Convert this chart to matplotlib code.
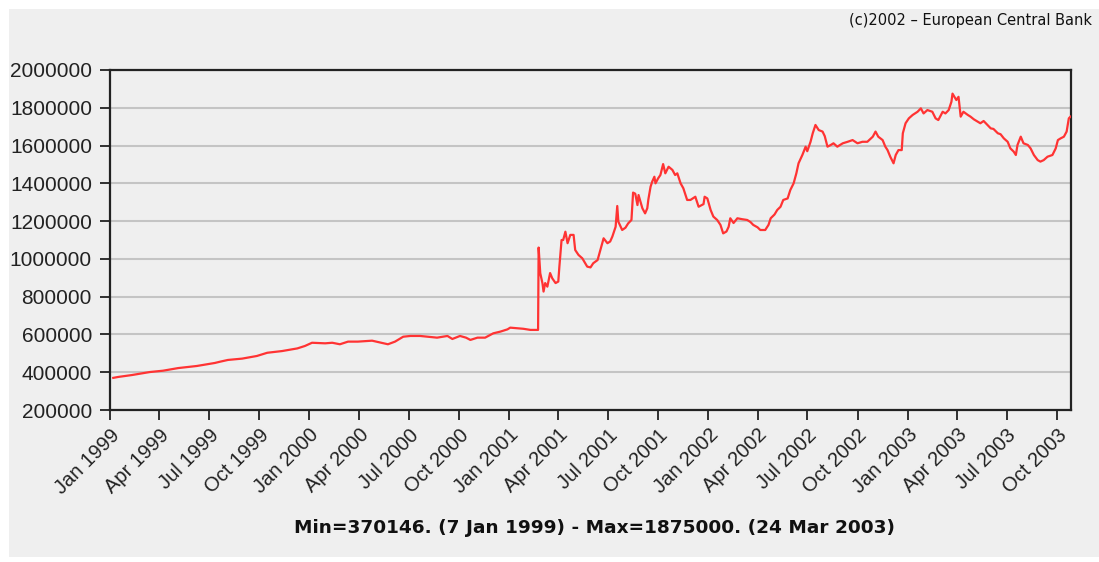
import matplotlib
matplotlib.use("Agg")
import matplotlib.pyplot as plt
import matplotlib.dates as mdates
from matplotlib.patches import Rectangle
from matplotlib.ticker import FuncFormatter
import pandas as pd

# values
dates = [
    "1999-01-07", "1999-01-16", "1999-02-10", "1999-03-15", "1999-04-08", "1999-05-06",
    "1999-06-09", "1999-07-12", "1999-07-22", "1999-08-05", "1999-08-31", "1999-09-27",
    "1999-10-16", "1999-11-12", "1999-12-10", "1999-12-24", "2000-01-06", "2000-01-30",
    "2000-02-12", "2000-02-26", "2000-03-12", "2000-03-30", "2000-04-25", "2000-05-24",
    "2000-06-06", "2000-06-21", "2000-07-04", "2000-07-22", "2000-08-22", "2000-09-10",
    "2000-09-19", "2000-10-03", "2000-10-14", "2000-10-22", "2000-11-04", "2000-11-18",
    "2000-12-03", "2000-12-16", "2000-12-29", "2001-01-03", "2001-01-27", "2001-02-09",
    "2001-02-23", "2001-02-24", "2001-02-27", "2001-03-03", "2001-03-05", "2001-03-08",
    "2001-03-12", "2001-03-17", "2001-03-21", "2001-03-27", "2001-04-01", "2001-04-03",
    "2001-04-07", "2001-04-10", "2001-04-14", "2001-04-18", "2001-04-23", "2001-04-29",
    "2001-05-02", "2001-05-08", "2001-05-15", "2001-05-24", "2001-05-30", "2001-06-04",
    "2001-06-12", "2001-06-17", "2001-06-23", "2001-06-30", "2001-07-05", "2001-07-09",
    "2001-07-15", "2001-07-18", "2001-07-20", "2001-07-27", "2001-08-02", "2001-08-07",
    "2001-08-13", "2001-08-16", "2001-08-20", "2001-08-24", "2001-08-26", "2001-09-02",
    "2001-09-07", "2001-09-11", "2001-09-13", "2001-09-17", "2001-09-20", "2001-09-24",
    "2001-09-26", "2001-10-01", "2001-10-05", "2001-10-10", "2001-10-14", "2001-10-20",
    "2001-10-27", "2001-11-01", "2001-11-05", "2001-11-11", "2001-11-16", "2001-11-23",
    "2001-11-29", "2001-12-08", "2001-12-14", "2001-12-23", "2001-12-25", "2001-12-30",
    "2002-01-05", "2002-01-10", "2002-01-17", "2002-01-23", "2002-01-28", "2002-02-03",
    "2002-02-07", "2002-02-10", "2002-02-16", "2002-02-23", "2002-03-04", "2002-03-13",
    "2002-03-19", "2002-03-24", "2002-04-01", "2002-04-06", "2002-04-15", "2002-04-21",
    "2002-04-25", "2002-05-02", "2002-05-07", "2002-05-13", "2002-05-18", "2002-05-26",
    "2002-05-31", "2002-06-06", "2002-06-11", "2002-06-15", "2002-06-22", "2002-06-28",
    "2002-07-01", "2002-07-07", "2002-07-11", "2002-07-16", "2002-07-22", "2002-07-29",
    "2002-08-02", "2002-08-07", "2002-08-13", "2002-08-18", "2002-08-25", "2002-09-04",
    "2002-09-13", "2002-09-22", "2002-10-01", "2002-10-10", "2002-10-19", "2002-10-29",
    "2002-11-03", "2002-11-08", "2002-11-16", "2002-11-21", "2002-11-25", "2002-11-30",
    "2002-12-06", "2002-12-10", "2002-12-15", "2002-12-21", "2002-12-23", "2002-12-28",
    "2003-01-03", "2003-01-10", "2003-01-19", "2003-01-25", "2003-01-30", "2003-02-06",
    "2003-02-15", "2003-02-21", "2003-02-26", "2003-03-06", "2003-03-11", "2003-03-17",
    "2003-03-22", "2003-03-24", "2003-03-31", "2003-04-04", "2003-04-08", "2003-04-13",
    "2003-04-21", "2003-04-26", "2003-05-02", "2003-05-09", "2003-05-14", "2003-05-20",
    "2003-05-27", "2003-06-02", "2003-06-07", "2003-06-15", "2003-06-20", "2003-06-26",
    "2003-07-03", "2003-07-08", "2003-07-14", "2003-07-18", "2003-07-21", "2003-07-27",
    "2003-08-01", "2003-08-09", "2003-08-14", "2003-08-20", "2003-08-27", "2003-09-01",
    "2003-09-07", "2003-09-14", "2003-09-23", "2003-09-29", "2003-10-03", "2003-10-08",
    "2003-10-14", "2003-10-19", "2003-10-23", "2003-10-26",
]
values = [
    370146, 375000, 385000, 401000, 408000, 422000,
    433000, 449000, 456000, 465000, 472000, 486000,
    503000, 512000, 526000, 539000, 556000, 553000,
    556000, 548000, 562000, 562000, 567000, 548000,
    562000, 588000, 592000, 592000, 583000, 592000,
    576000, 592000, 583000, 571000, 583000, 583000,
    606000, 615000, 627000, 636000, 630000, 624000,
    624000, 1060000, 924000, 871000, 827000, 872000,
    853000, 925000, 897000, 872000, 880000, 959000,
    1100000, 1100000, 1144000, 1083000, 1127000, 1127000,
    1047000, 1021000, 1003000, 959000, 955000, 977000,
    994000, 1047000, 1109000, 1083000, 1092000, 1118000,
    1170000, 1280000, 1197000, 1153000, 1165000, 1188000,
    1206000, 1351000, 1345000, 1285000, 1338000, 1268000,
    1241000, 1268000, 1315000, 1382000, 1409000, 1435000,
    1400000, 1427000, 1444000, 1502000, 1453000, 1488000,
    1471000, 1444000, 1453000, 1400000, 1374000, 1312000,
    1312000, 1329000, 1276000, 1290000, 1329000, 1320000,
    1259000, 1224000, 1206000, 1180000, 1135000, 1145000,
    1170000, 1215000, 1190000, 1215000, 1210000, 1206000,
    1195000, 1180000, 1167000, 1153000, 1153000, 1180000,
    1215000, 1235000, 1259000, 1276000, 1312000, 1320000,
    1365000, 1400000, 1453000, 1506000, 1550000, 1594000,
    1570000, 1620000, 1665000, 1709000, 1682000, 1674000,
    1650000, 1594000, 1603000, 1612000, 1594000, 1612000,
    1620000, 1629000, 1612000, 1620000, 1620000, 1647000,
    1674000, 1647000, 1629000, 1594000, 1576000, 1541000,
    1506000, 1550000, 1576000, 1576000, 1665000, 1718000,
    1744000, 1762000, 1779000, 1797000, 1770000, 1788000,
    1779000, 1744000, 1735000, 1779000, 1770000, 1788000,
    1832000, 1875000, 1841000, 1858000, 1753000, 1779000,
    1762000, 1753000, 1739000, 1727000, 1718000, 1730000,
    1709000, 1691000, 1688000, 1665000, 1660000, 1638000,
    1620000, 1585000, 1568000, 1550000, 1603000, 1647000,
    1612000, 1603000, 1585000, 1550000, 1523000, 1515000,
    1523000, 1541000, 1550000, 1585000, 1629000, 1638000,
    1647000, 1674000, 1744000, 1753000,
]
y_ticks = [200000, 400000, 600000, 800000, 1000000, 1200000,
           1400000, 1600000, 1800000, 2000000]
footer = "Min=370146. (7 Jan 1999) - Max=1875000. (24 Mar 2003)"
credit = "(c)2002 \u2013 European Central Bank"

bg = "#efefef"
plt.rcParams['font.family'] = ['Liberation Sans', 'DejaVu Sans']

fig = plt.figure(figsize=(10.99, 5.62), dpi=100, facecolor="white")
W, H = 1099, 562
fig.patches.append(Rectangle((9 / W, 5 / H), 1, 1 - 14 / H, transform=fig.transFigure,
                             facecolor=bg, edgecolor="none", zorder=-10))

ax = fig.add_axes([110 / W, 1 - 410 / H, (1071 - 110) / W, (410 - 70) / H])
ax.set_facecolor(bg)

x = pd.to_datetime(dates)
ax.plot(x, values, color="#ff3333", lw=1.6, zorder=3)

ax.set_xlim(pd.Timestamp("1999-01-01"), pd.Timestamp("2003-10-27"))
ax.set_ylim(200000, 2000000)
ax.set_yticks(y_ticks)
ax.yaxis.set_major_formatter(FuncFormatter(lambda v, p: "%d" % v))
ax.xaxis.set_major_locator(mdates.MonthLocator(bymonth=[1, 4, 7, 10]))
ax.xaxis.set_major_formatter(mdates.DateFormatter("%b %Y"))

ax.grid(axis="y", color="#c4c4c4", lw=1.5)
ax.set_axisbelow(True)
for s in ax.spines.values():
    s.set_color("#222222")
    s.set_linewidth(1.6)

ax.tick_params(axis="both", direction="out", length=7, width=1.3, color="#222222",
               labelcolor="#222222")
ax.tick_params(axis="y", pad=6, labelsize=15)
ax.tick_params(axis="x", pad=4, labelsize=14.5)
for lab in ax.get_xticklabels():
    lab.set_rotation(45)
    lab.set_ha("right")
    lab.set_rotation_mode("anchor")

fig.text(595 / W, 1 - 528 / H, footer, ha="center", va="center",
         fontsize=13.3, fontweight="bold", color="#111111", family="DejaVu Sans")
fig.text(849 / W, 1 - 21 / H, credit, ha="left", va="center",
         fontsize=10.5, color="#111111", family="DejaVu Sans")

fig.savefig("out.png", dpi=100, facecolor=fig.get_facecolor())
